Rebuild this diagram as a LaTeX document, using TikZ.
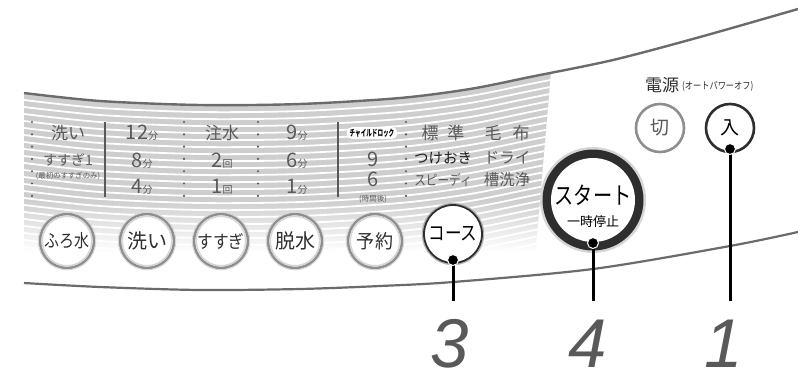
\documentclass[tikz,border=0pt]{standalone}
\usepackage{graphicx}
\usepackage{fontspec}
\setmainfont{Noto Sans CJK JP}
\newfontfamily\numfont{Liberation Sans}
\definecolor{txt}{HTML}{595959}
\definecolor{dark}{HTML}{2E2E2E}
\definecolor{bandgrey}{HTML}{CECECE}
\definecolor{edgegrey}{HTML}{6B6B6B}
\definecolor{ringgrey}{HTML}{8E8E8E}
\definecolor{ringlight}{HTML}{D6D6D6}
\newcommand{\fs}[1]{\fontsize{#1}{#1}\selectfont}
\newcommand{\sq}[2]{\scalebox{#1}[1]{#2}}
\tikzset{
  btn/.style={circle, draw=ringgrey, line width=2.6pt, fill=white, minimum size=54pt, inner sep=0pt, text=dark},
  leader/.style={line width=3pt, black},
  dotmark/.style={circle, fill=black, draw=white, line width=1pt, minimum size=11pt, inner sep=0pt},
  ptxt/.style={text=txt, inner sep=0pt},
  callout/.style={text=txt, font=\numfont\itshape\fs{69}, inner sep=0pt, text depth=0pt, anchor=base},
}
\begin{document}
\begin{tikzpicture}[x=1pt,y=-1pt]
\useasboundingbox (0,0) rectangle (798,373);
\fill[white] (0,0) rectangle (798,373);
% striped band
\begin{scope}
  \clip (24,30) -- (558,30) -- (551,72) -- (534,270) -- (24,270) -- cycle;
  \clip plot[smooth] coordinates {(24,93)(100,101)(200,105)(300,104)(400,98)(470,89)(530,77)(613,60)(700,37)(798,9)} -- (798,373) -- (24,373) -- cycle;
  \fill[bandgrey] (24,30) rectangle (560,200);
  \shade[top color=bandgrey, bottom color=white] (24,199.5) rectangle (560,252);
  \foreach \k in {1,...,26} {
    \draw[white, line width=1.8pt, shift={(0,\k*7)}] plot[smooth] coordinates {(24,93)(100,101)(200,105)(300,104)(400,98)(470,89)(530,77)(613,60)(700,37)(798,9)};
  }
\end{scope}
% outline curves
\draw[edgegrey, line width=2.4pt] plot[smooth] coordinates {(24,93)(100,101)(200,105)(300,104)(400,98)(470,89)(530,77)(613,60)(700,37)(798,9)};
\draw[edgegrey, line width=2.2pt] plot[smooth] coordinates {(24,283)(100,287)(200,290)(300,289)(380,286)(453,282)(593,269)(730,246)(798,232)};
% panel separators
\foreach \xx in {32,184,258,406} {
  \foreach \yy in {122,134.3,...,198} { \fill[txt] (\xx,\yy) circle (1.2); }
}
\draw[txt, line width=1.4pt] (105,122) -- (105,197);
\draw[txt, line width=1.4pt] (338,122) -- (338,197);
% panel texts
\node[ptxt, font=\fs{17}] (wash) at (68,133) {洗い};
\node[ptxt, font=\fs{14}] (rinse) at (68,160) {すすぎ1};
\node[ptxt, font=\fs{7.4}] (first) at (68,176) {(最初のすすぎのみ)};
\node[ptxt] (m12) at (142,133) {\fs{20}12\fs{10}分};
\node[ptxt] (m8) at (142,161) {\fs{20}8\fs{10}分};
\node[ptxt] (m4) at (142,187) {\fs{20}4\fs{10}分};
\node[ptxt, font=\fs{17}] (water) at (222,133) {注水};
\node[ptxt] (r2) at (222,161) {\fs{20}2\fs{10}回};
\node[ptxt] (r1) at (222,187) {\fs{20}1\fs{10}回};
\node[ptxt] (s9) at (297,133) {\fs{20}9\fs{10}分};
\node[ptxt] (s6) at (297,161) {\fs{20}6\fs{10}分};
\node[ptxt] (s1) at (297,187) {\fs{20}1\fs{10}分};
\node[fill=white, rounded corners=5pt, inner xsep=3pt, inner ysep=1.5pt, text=black, font=\bfseries\fs{9}] (lock) at (372,133) {\sq{0.62}{チャイルドロック}};
\node[ptxt, font=\fs{20}] (h9) at (373,159) {9};
\node[ptxt, font=\fs{20}] (h6) at (373,179) {6};
\node[ptxt, font=\fs{7.5}] (later) at (373,199) {(時間後)};
\node[ptxt, font=\fs{17}] (std) at (443,133) {標\hspace{9pt}準};
\node[inner sep=0pt, text=black!90, font=\fs{14.5}] (soak) at (443,158) {つけおき};
\node[ptxt, font=\fs{14}] (speedy) at (443,180) {\sq{0.83}{スピーディ}};
\node[ptxt, font=\fs{17}] (blanket) at (507,133) {毛\hspace{11pt}布};
\node[ptxt, font=\fs{15.5}] (dry) at (507,158) {ドライ};
\node[ptxt, font=\fs{15.5}] (tub) at (507,180) {槽洗浄};
% bottom buttons
\node[btn, font=\fs{18}] (furo) at (67,241) {\sq{0.83}{ふろ水}};
\node[btn, font=\fs{20}] (arai) at (147,241) {洗い};
\node[btn, font=\fs{18}] (susugi) at (221,241) {\sq{0.87}{すすぎ}};
\node[btn, font=\fs{20}] (dassui) at (295,241) {脱水};
\node[btn, font=\fs{19}] (yoyaku) at (375,241) {\sq{0.95}{予約}};
\foreach \n in {furo,arai,susugi,dassui,yoyaku} {
  \draw[ringlight, line width=1.6pt] (\n.center) circle (24.8);
  \draw[ringlight, line width=1pt] (\n.center) circle (28.7);
}
\draw[ringgrey!70, line width=2pt] (453,234) circle (30.2);
\node[btn, draw=dark, line width=1.8pt, minimum size=58pt, text=black, font=\fs{20}] (course) at (453,234) {\sq{0.83}{コース}};
% start button
\node[circle, minimum size=106pt, inner sep=0pt, fill=ringlight] (start) at (593,200) {};
\fill[dark] (start.center) circle (50.5);
\fill[white] (start.center) circle (42);
\node[inner sep=0pt, text=black, font=\fs{24}] (startlbl) at (593,195) {\sq{0.8}{スタート}};
\node[inner sep=0pt, text=black, font=\fs{13}] (pause) at (593,222) {一時停止};
% power
\node[inner sep=0pt, text=dark, font=\fs{17}] (power) at (662,85) {電源};
\node[inner sep=0pt, text=dark, font=\fs{10}, anchor=west] (auto) at (682,86) {\sq{0.82}{(オートパワーオフ)}};
\node[btn, minimum size=48pt, text=txt, font=\fs{19}] (kiri) at (660,128) {切};
\node[btn, draw=dark, minimum size=48pt, text=black, font=\fs{19}] (iri) at (730,128) {入};
% leaders
\coordinate (d3) at (453,260); \coordinate (e3) at (453,301);
\coordinate (d4) at (593,243); \coordinate (e4) at (593,301);
\coordinate (d1) at (730,149); \coordinate (e1) at (730,301);
\draw[leader] (d3) -- (e3);
\draw[leader] (d4) -- (e4);
\draw[leader] (d1) -- (e1);
\node[dotmark] (p3) at (d3) {};
\node[dotmark] (p4) at (d4) {};
\node[dotmark] (p1) at (d1) {};
\node[callout] (n3) at (450,367) {3};
\node[callout] (n4) at (588,367) {4};
\node[callout] (n1) at (724,367) {1};
\end{tikzpicture}
\end{document}
